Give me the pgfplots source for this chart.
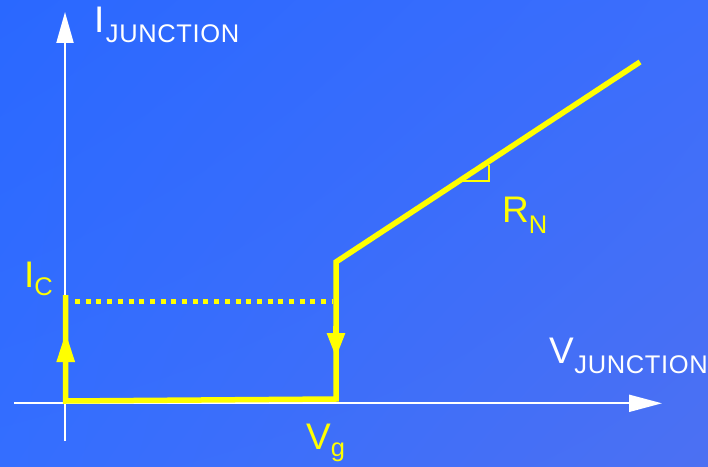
\documentclass[border=0pt]{standalone}
\usepackage{pgfplots}
\pgfplotsset{compat=1.18}
\usepackage{fontspec}
\setmainfont{Liberation Sans}
\usetikzlibrary{arrows.meta,shadings}

\definecolor{bgul}{RGB}{42,104,255}
\definecolor{bgur}{RGB}{60,110,252}
\definecolor{bgll}{RGB}{52,110,255}
\definecolor{bglr}{RGB}{76,112,242}
\definecolor{curve}{RGB}{255,255,0}

\newcommand{\lbl}[1]{{\fontsize{37}{40}\selectfont #1}}
\newcommand{\sub}[2]{\raisebox{-#1}{\fontsize{25.5}{27}\selectfont #2}}
\newcommand{\wide}[1]{{\addfontfeature{LetterSpace=2.5}#1}}

\begin{document}
\begin{tikzpicture}
\begin{axis}[
    scale only axis, width=708pt, height=466pt,
    xmin=0, xmax=708, ymin=0, ymax=466,
    axis lines=none, ticks=none, clip=false,
    axis background/.style={shade, upper left=bgul, upper right=bgur,
        lower left=bgll, lower right=bglr},
]
% axes
\addplot[white, line width=2pt, -{Triangle[length=31pt, width=17pt]}]
    coordinates {(65,25) (65,454)};
\addplot[white, line width=2pt, -{Triangle[length=33pt, width=17pt]}]
    coordinates {(14,62.7) (662,62.7)};
% I-V curve
\addplot[curve, line width=5.5pt, line join=miter]
    coordinates {(65.7,171) (65.7,65) (336,67) (336,204) (640,404)};
\addplot[curve, line width=5pt, dash pattern=on 5pt off 5.7pt]
    coordinates {(75,165) (333,165)};
\addplot[curve, line width=5.5pt, -{Triangle[length=30pt, width=17pt]}]
    coordinates {(65.7,100) (65.7,134)};
\addplot[curve, line width=5.5pt, -{Triangle[length=25pt, width=17pt]}]
    coordinates {(336,140) (336,108)};
% slope marker
\addplot[curve, line width=1.5pt]
    coordinates {(463,285) (489,285) (489,301)};
% labels
\node[white, anchor=base west, inner sep=0] at (axis cs:94,433)
    {\lbl{I}\kern1.5pt\sub{10pt}{\wide{JUNCTION}}};
\node[white, anchor=base west, inner sep=0] at (axis cs:549,103)
    {\lbl{V}\kern0.5pt\sub{10pt}{\wide{JUNCTION}}};
\node[curve, anchor=base west, inner sep=0] at (axis cs:24,179)
    {\lbl{I}\sub{9pt}{C}};
\node[curve, anchor=base west, inner sep=0] at (axis cs:306,17)
    {\lbl{V}\sub{7pt}{g}};
\node[curve, anchor=base west, inner sep=0] at (axis cs:502,243)
    {\lbl{R}\sub{10pt}{N}};
\end{axis}
\end{tikzpicture}
\end{document}
